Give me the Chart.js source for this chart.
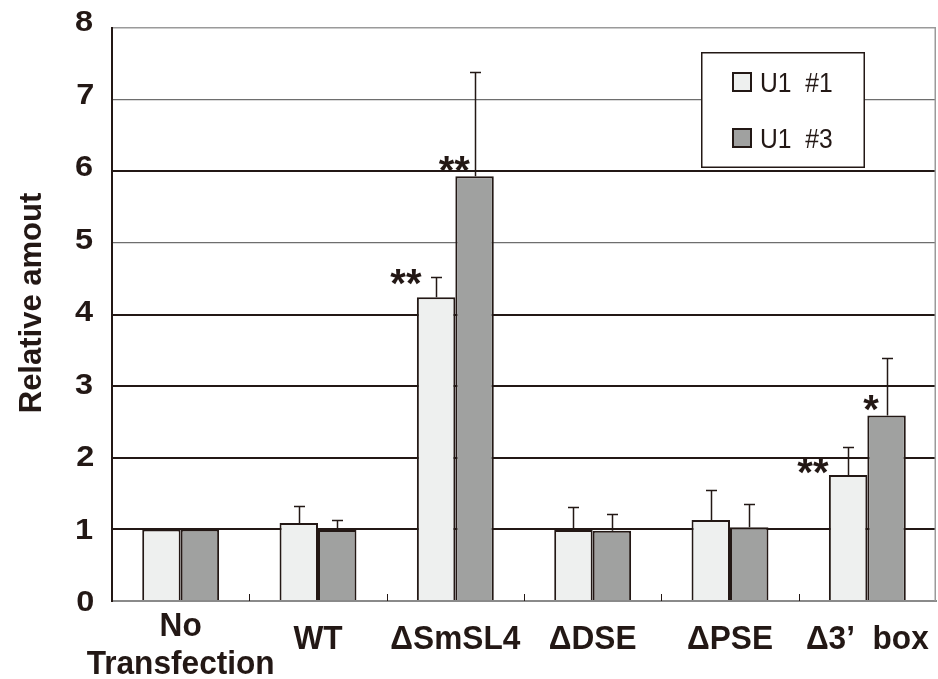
<!DOCTYPE html>
<html>
<head>
<meta charset="utf-8">
<script src="https://cdn.jsdelivr.net/npm/chart.js@4.4.1/dist/chart.umd.min.js"></script>
<style>
  html, body { margin: 0; padding: 0; background: #ffffff; }
  canvas { display: block; }
</style>
</head>
<body>
<canvas id="chart" width="938" height="679"></canvas>
<script>
// ---- data ----
const categories = [['No', 'Transfection'], 'WT', '\u0394SmSL4', '\u0394DSE', '\u0394PSE', '\u03943\u2019  box'];
const seriesNames = ['U1  #1', 'U1  #3'];
const u1n1 = [1.00, 1.09, 4.24, 0.99, 1.13, 1.76];
const u1n3 = [1.00, 0.99, 5.93, 0.98, 1.03, 2.59];
const u1n1Err = [0, 0.23, 0.29, 0.32, 0.42, 0.39];
const u1n3Err = [0, 0.14, 1.46, 0.24, 0.32, 0.80];
const u1n1Sig = ['', '', '**', '', '', '**'];
const u1n3Sig = ['', '', '**', '', '', '*'];
const yTickValues = [0, 1, 2, 3, 4, 5, 6, 7, 8];
const yTitle = 'Relative amout';

// ---- style ----
const INK = '#231815';
const FILLS = ['#eef0ef', '#a0a1a0'];
const FONT = '"Liberation Sans", Arial, Helvetica, sans-serif';
// where each significance mark sits: [right edge past bar's left edge, ink centre above bar top]
const sigNudge = { '0-2': [5, 20], '1-2': [15, 12], '0-5': [0, 9], '1-5': [12, 12] };

function inkText(ctx, text, cx, cy, scaleX) {
  // draws text so its ink box is centred on (cx, cy)
  const m = ctx.measureText(text);
  const w = (m.actualBoundingBoxRight + m.actualBoundingBoxLeft);
  const h = (m.actualBoundingBoxAscent + m.actualBoundingBoxDescent);
  ctx.save();
  ctx.translate(cx, cy);
  ctx.scale(scaleX || 1, 1);
  ctx.textAlign = 'left';
  ctx.textBaseline = 'alphabetic';
  ctx.fillText(text, -w / 2 + m.actualBoundingBoxLeft, h / 2 - m.actualBoundingBoxDescent);
  ctx.restore();
}

const decor = {
  id: 'decor',
  beforeDatasetsDraw(chart) {
    const { ctx, chartArea: a, scales: { x } } = chart;
    ctx.save();
    // right frame edge
    ctx.strokeStyle = '#9a9a9a';
    ctx.lineWidth = 1.5;
    ctx.beginPath();
    ctx.moveTo(a.right - 0.75, a.top);
    ctx.lineTo(a.right - 0.75, a.bottom);
    ctx.stroke();
    // short inward ticks between categories
    ctx.strokeStyle = INK;
    ctx.lineWidth = 1;
    for (let i = 1; i < categories.length; i++) {
      const px = Math.round((x.getPixelForValue(i - 1) + x.getPixelForValue(i)) / 2) + 0.5;
      ctx.beginPath();
      ctx.moveTo(px, a.bottom);
      ctx.lineTo(px, a.bottom - 7);
      ctx.stroke();
    }
    ctx.restore();
  },
  afterDatasetsDraw(chart) {
    const { ctx, chartArea: a, scales: { x, y } } = chart;
    const errs = [u1n1Err, u1n3Err];
    const sigs = [u1n1Sig, u1n3Sig];
    ctx.save();
    // error bars (upper side only)
    ctx.strokeStyle = INK;
    ctx.lineWidth = 1.5;
    chart.data.datasets.forEach((ds, d) => {
      const meta = chart.getDatasetMeta(d);
      meta.data.forEach((bar, i) => {
        const e = errs[d][i];
        if (!e) return;
        const top = Math.round(y.getPixelForValue(ds.data[i] + e)) + 0.5;
        const bx = Math.round(bar.x) + 0.5;
        ctx.beginPath();
        ctx.moveTo(bx, bar.y);
        ctx.lineTo(bx, top);
        ctx.moveTo(bx - 5.5, top);
        ctx.lineTo(bx + 5.5, top);
        ctx.stroke();
      });
    });
    // significance marks
    ctx.fillStyle = INK;
    ctx.font = 'bold 40px ' + FONT;
    chart.data.datasets.forEach((ds, d) => {
      const meta = chart.getDatasetMeta(d);
      meta.data.forEach((bar, i) => {
        const s = sigs[d][i];
        if (!s) return;
        const nudge = sigNudge[d + '-' + i] || [6, 12];
        const m = ctx.measureText(s);
        const w = m.actualBoundingBoxRight + m.actualBoundingBoxLeft;
        const left = bar.x - bar.width / 2;
        inkText(ctx, s, left + nudge[0] - w / 2, bar.y - nudge[1]);
      });
    });
    // legend box
    const lx = a.right - 235, ly = a.top + 24, lw = 164, lh = 116;
    ctx.fillStyle = '#ffffff';
    ctx.fillRect(lx, ly, lw, lh);
    ctx.strokeStyle = INK;
    ctx.lineWidth = 1.5;
    ctx.strokeRect(lx + 0.75, ly + 0.75, lw - 1.5, lh - 1.5);
    chart.data.datasets.forEach((ds, d) => {
      const cy = ly + 30 + d * 56;
      ctx.fillStyle = ds.backgroundColor;
      ctx.fillRect(lx + 31, cy - 10, 20, 20);
      ctx.strokeStyle = INK;
      ctx.lineWidth = 2;
      ctx.strokeRect(lx + 32, cy - 9, 18, 18);
      ctx.fillStyle = INK;
      ctx.font = '28px ' + FONT;
      ctx.save();
      ctx.translate(lx + 59, cy);
      ctx.scale(0.88, 1);
      ctx.textBaseline = 'alphabetic';
      ctx.textAlign = 'left';
      ctx.fillText(ds.label, 0, 10);
      ctx.restore();
    });
    ctx.restore();
  },
  afterDraw(chart) {
    const { ctx, chartArea: a, scales: { x, y } } = chart;
    ctx.save();
    ctx.fillStyle = INK;
    // value labels on the y axis, set slightly above their grid lines
    ctx.font = 'bold 29px ' + FONT;
    y.ticks.forEach((t) => {
      const py = y.getPixelForValue(t.value) - 0.85 * t.value;
      ctx.save();
      ctx.translate(a.left - 19, py);
      ctx.scale(1.12, 1);
      const s = String(t.value);
      const m = ctx.measureText(s);
      const h = m.actualBoundingBoxAscent + m.actualBoundingBoxDescent;
      ctx.textAlign = 'left';
      ctx.textBaseline = 'alphabetic';
      ctx.fillText(s, -m.actualBoundingBoxRight, h / 2 - m.actualBoundingBoxDescent);
      ctx.restore();
    });
    // category labels
    ctx.font = 'bold 34px ' + FONT;
    ctx.textAlign = 'center';
    ctx.textBaseline = 'alphabetic';
    chart.data.labels.forEach((lab, i) => {
      const cx = x.getPixelForValue(i);
      const lines = Array.isArray(lab) ? lab : [lab];
      const baselines = lines.length === 2 ? [35, 73] : [48];
      lines.forEach((t, k) => {
        ctx.save();
        ctx.translate(cx, a.bottom + baselines[k]);
        ctx.scale(0.93, 1);
        ctx.fillText(t, 0, 0);
        ctx.restore();
      });
    });
    // y axis title
    ctx.font = 'bold 31px ' + FONT;
    ctx.save();
    ctx.translate(41, 303);
    ctx.rotate(-Math.PI / 2);
    ctx.textAlign = 'center';
    ctx.textBaseline = 'alphabetic';
    ctx.fillText(yTitle, 0, 0);
    ctx.restore();
    ctx.restore();
  }
};

new Chart(document.getElementById('chart'), {
  type: 'bar',
  data: {
    labels: categories,
    datasets: [
      { label: seriesNames[0], data: u1n1, backgroundColor: FILLS[0] },
      { label: seriesNames[1], data: u1n3, backgroundColor: FILLS[1] }
    ]
  },
  options: {
    responsive: false,
    devicePixelRatio: 1,
    animation: false,
    layout: { padding: { top: 28, right: 2, bottom: 0, left: 0 } },
    datasets: {
      bar: {
        borderColor: INK,
        borderWidth: 2,
        borderSkipped: 'bottom',
        categoryPercentage: 0.56,
        barPercentage: 1
      }
    },
    plugins: {
      legend: { display: false },
      tooltip: { enabled: false }
    },
    scales: {
      x: {
        type: 'category',
        offset: true,
        grid: { display: false },
        ticks: { display: false },
        border: { display: true, color: '#8a8a8a', width: 2 },
        afterFit: (s) => { s.height = 78; }
      },
      y: {
        min: 0,
        max: 8,
        afterBuildTicks: (s) => { s.ticks = yTickValues.map(v => ({ value: v })); },
        ticks: { display: false },
        grid: {
          drawTicks: false,
          color: (c) => {
            const v = c.tick && c.tick.value;
            if (v === 0) return 'rgba(0,0,0,0)';
            if (v === 8) return '#9a9a9a';
            if (v === 7 || v === 5) return '#6e6e6e';
            return INK;
          },
          lineWidth: (c) => {
            const v = c.tick && c.tick.value;
            if (v === 8) return 1.5;
            if (v === 7 || v === 5) return 1.2;
            return 2;
          }
        },
        border: { display: true, color: INK, width: 2 },
        afterFit: (s) => { s.width = 112; }
      }
    }
  },
  plugins: [decor]
});
</script>
</body>
</html>
